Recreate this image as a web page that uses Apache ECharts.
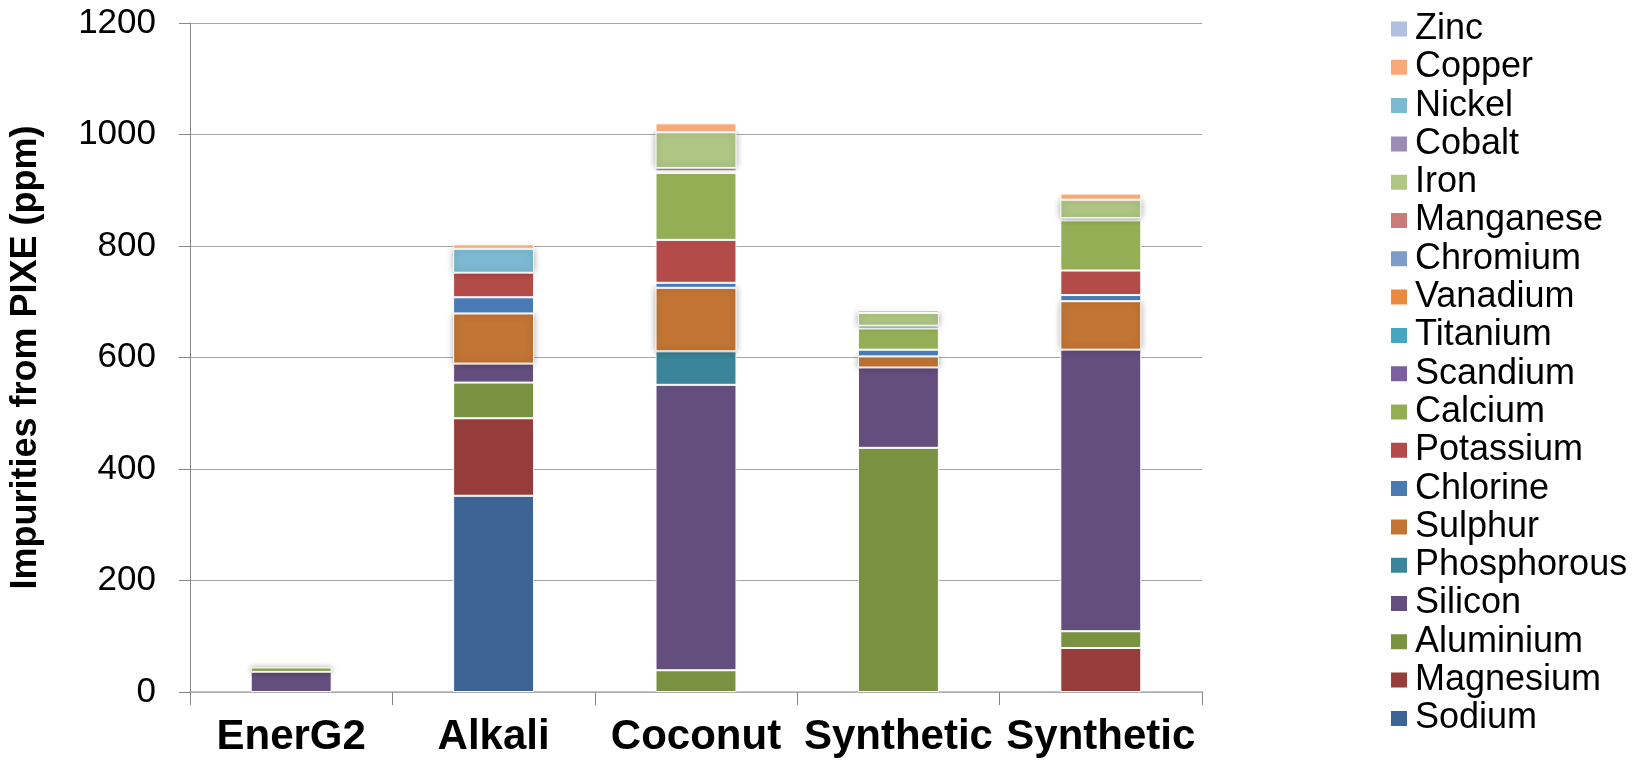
<!DOCTYPE html>
<html>
<head>
<meta charset="utf-8">
<script src="https://cdn.jsdelivr.net/npm/echarts@6/dist/echarts.min.js"></script>
<style>
  html, body { margin: 0; padding: 0; background: #fff; }
  #chart { width: 1647px; height: 764px; }
</style>
</head>
<body>
<div id="chart"></div>
<script>
    "use strict";

    var categories = ['EnerG2', 'Alkali', 'Coconut', 'Synthetic', 'Synthetic'];
    var yTicks = [0, 200, 400, 600, 800, 1000, 1200];

    // stacking order, bottom to top
    var elements = ['Sodium', 'Magnesium', 'Aluminium', 'Silicon', 'Phosphorous', 'Sulphur',
        'Chlorine', 'Potassium', 'Calcium', 'Scandium', 'Titanium', 'Vanadium', 'Chromium',
        'Manganese', 'Iron', 'Cobalt', 'Nickel', 'Copper', 'Zinc'];

    var sodium      = [0, 352, 0, 0, 0];
    var magnesium   = [0, 139, 0, 0, 79];
    var aluminium   = [0, 64, 39, 438, 30];
    var silicon     = [36, 34, 512, 144, 505];
    var phosphorous = [0, 0, 60, 0, 0];
    var sulphur     = [0, 90, 114, 20, 87];
    var chlorine    = [0, 29, 9, 12, 11];
    var potassium   = [0, 44, 77, 0, 44];
    var calcium     = [8, 0, 120, 38, 90];
    var scandium    = [0, 0, 0, 0, 0];
    var titanium    = [0, 0, 0, 5, 0];
    var vanadium    = [0, 0, 0, 0, 0];
    var chromium    = [0, 0, 3, 0, 0];
    var manganese   = [0, 0, 6, 0, 4];
    var iron        = [0, 0, 64, 23, 33];
    var cobalt      = [0, 0, 0, 0, 0];
    var nickel      = [0, 43, 0, 0, 0];
    var copper      = [0, 8, 16, 5, 11];
    var zinc        = [0, 0, 0, 3, 0];

    var values = [sodium, magnesium, aluminium, silicon, phosphorous, sulphur, chlorine,
        potassium, calcium, scandium, titanium, vanadium, chromium, manganese, iron,
        cobalt, nickel, copper, zinc];

    var colors = ['#3D6494', '#963C3B', '#7A9142', '#634E7D', '#3A8599', '#C27535',
        '#4A7AB4', '#B34B48', '#93AE54', '#7B609E', '#47A5BF', '#EA8A3F', '#7F9BC8',
        '#CB7B7A', '#AFC685', '#9B8BB5', '#7DBAD1', '#F8A978', '#B0C0DE'];

    // segments drawn with a soft shadow in the original
    var shadowed = ['Sulphur', 'Iron', 'Nickel'];

    var font = "'Liberation Sans', Arial, sans-serif";

    var series = elements.map(function (name, i) {
        var data = values[i].map(function (v, j) {
            if (!v) {
                return '-';
            }
            if (name === 'Calcium' && j === 0) {
                return {
                    value: v,
                    itemStyle: { shadowBlur: 6, shadowColor: 'rgba(0,0,0,0.35)' }
                };
            }
            return v;
        });
        var itemStyle = {
            color: colors[i],
            borderColor: '#ffffff',
            borderWidth: 1
        };
        if (shadowed.indexOf(name) >= 0) {
            itemStyle.shadowBlur = 7;
            itemStyle.shadowColor = 'rgba(0,0,0,0.35)';
        }
        return {
            name: name,
            type: 'bar',
            stack: 'total',
            barCategoryGap: '60%',
            itemStyle: itemStyle,
            data: data
        };
    });

    var chart = echarts.init(document.getElementById('chart'));
    chart.setOption({
        animation: false,
        textStyle: { fontFamily: font },
        grid: { left: 171, right: 445, top: 23, bottom: 72 },
        legend: {
            orient: 'vertical',
            left: 1384,
            top: 6,
            height: 760,
            icon: 'rect',
            itemWidth: 18,
            itemHeight: 17,
            itemGap: 2.3,
            data: elements.slice().reverse(),
            textStyle: {
                fontFamily: font,
                fontSize: 36,
                lineHeight: 36,
                color: '#000',
                padding: [0, 0, 0, 2]
            }
        },
        xAxis: {
            type: 'category',
            data: categories,
            axisLine: { lineStyle: { color: '#B0B0B0', width: 1.5 } },
            axisTick: { show: true, length: 13, lineStyle: { color: '#868686' } },
            axisLabel: {
                interval: 0,
                margin: 24,
                fontFamily: font,
                fontSize: 42,
                fontWeight: 'bold',
                color: '#000'
            }
        },
        yAxis: {
            type: 'value',
            min: yTicks[0],
            max: yTicks[yTicks.length - 1],
            interval: 200,
            name: 'Impurities from PIXE (ppm)',
            nameLocation: 'middle',
            nameRotate: 90,
            nameGap: 146,
            nameTextStyle: {
                fontFamily: font,
                fontSize: 36,
                fontWeight: 'bold',
                color: '#000'
            },
            axisLine: { show: true, lineStyle: { color: '#868686' } },
            axisTick: { show: true, length: 11, lineStyle: { color: '#868686' } },
            axisLabel: {
                margin: 34,
                fontFamily: font,
                fontSize: 35,
                color: '#000',
                formatter: function (v) { return String(v); }
            },
            splitLine: { lineStyle: { color: '#A6A6A6' } }
        },
        series: series
    });
</script>
</body>
</html>
